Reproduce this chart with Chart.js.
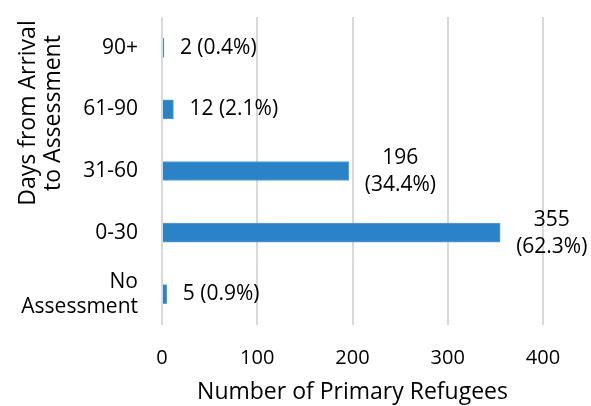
<!DOCTYPE html>
<html>
<head>
<meta charset="utf-8">
<script src="https://cdn.jsdelivr.net/npm/chart.js@4/dist/chart.umd.min.js"></script>
<style>
  html, body { margin: 0; padding: 0; background: #fff; }
  #wrap { width: 591px; height: 406px; }
</style>
</head>
<body>
<div id="wrap"><canvas id="barChart"></canvas></div>
<script>
// Days from arrival to assessment, top to bottom
const categories = ['90+', '61-90', '31-60', '0-30', ['No', 'Assessment']];
const refugees = [2, 12, 196, 355, 5];
const percents = [0.4, 2.1, 34.4, 62.3, 0.9];
const xTicks = [0, 100, 200, 300, 400];

const FONT = '"Open Sans", sans-serif';
Chart.defaults.font.family = FONT;
Chart.defaults.color = '#000';

// rotated two-line title for the category axis
const yTitlePlugin = {
    id: 'yTitle',
    afterDraw(chart) {
        const ctx = chart.ctx;
        ctx.save();
        ctx.translate(40, 113);
        ctx.rotate(-Math.PI / 2);
        ctx.font = '23px ' + FONT;
        ctx.fillStyle = '#000';
        ctx.textAlign = 'center';
        ctx.textBaseline = 'middle';
        ctx.fillText('Days from Arrival', 0, -12);
        ctx.fillText('to Assessment', 0, 13);
        ctx.restore();
    }
};

// value (percent) labels to the right of each bar
const valueLabels = {
    id: 'valueLabels',
    afterDatasetsDraw(chart) {
        const ctx = chart.ctx;
        const meta = chart.getDatasetMeta(0);
        ctx.save();
        ctx.font = '21px ' + FONT;
        ctx.fillStyle = '#000';
        ctx.textBaseline = 'middle';
        meta.data.forEach((bar, i) => {
            const v = refugees[i];
            const pct = '(' + percents[i].toFixed(1) + '%)';
            const left = bar.x + 16;
            if (v >= 100) {
                const w = ctx.measureText(pct).width;
                ctx.textAlign = 'center';
                ctx.fillText(String(v), left + w / 2, bar.y - 13);
                ctx.fillText(pct, left + w / 2, bar.y + 14);
            } else {
                ctx.textAlign = 'left';
                ctx.fillText(v + ' ' + pct, left, bar.y);
            }
        });
        ctx.restore();
    }
};

function noPadding(scale) {
    scale.paddingTop = 0;
    scale.paddingBottom = 0;
    scale.paddingLeft = 0;
    scale.paddingRight = 0;
}

new Chart(document.getElementById('barChart'), {
    type: 'bar',
    data: {
        labels: categories,
        datasets: [{
            data: refugees,
            backgroundColor: '#2a82c7',
            borderColor: '#5a9fd6',
            borderWidth: 1,
            barThickness: 19
        }]
    },
    options: {
        indexAxis: 'y',
        responsive: true,
        maintainAspectRatio: false,
        animation: false,
        layout: { padding: { top: 17, right: 48, left: 0, bottom: 0 } },
        plugins: {
            legend: { display: false },
            tooltip: { enabled: false }
        },
        scales: {
            x: {
                min: 0,
                max: 400,
                afterBuildTicks(scale) {
                    scale.ticks = xTicks.map(v => ({ value: v }));
                },
                afterFit(scale) { scale.height = 81; noPadding(scale); },
                grid: { color: '#d9d9d9', lineWidth: 2, drawTicks: false },
                border: { display: false },
                ticks: { font: { size: 20 }, padding: 21 },
                title: {
                    display: true,
                    text: 'Number of Primary Refugees',
                    font: { size: 23 },
                    padding: { top: 3, bottom: 0 }
                }
            },
            y: {
                afterFit(scale) { scale.width = 162; noPadding(scale); },
                grid: { display: false, drawTicks: false },
                border: { display: false },
                ticks: { font: { size: 21 }, padding: 24 }
            }
        }
    },
    plugins: [yTitlePlugin, valueLabels]
});
</script>
</body>
</html>
